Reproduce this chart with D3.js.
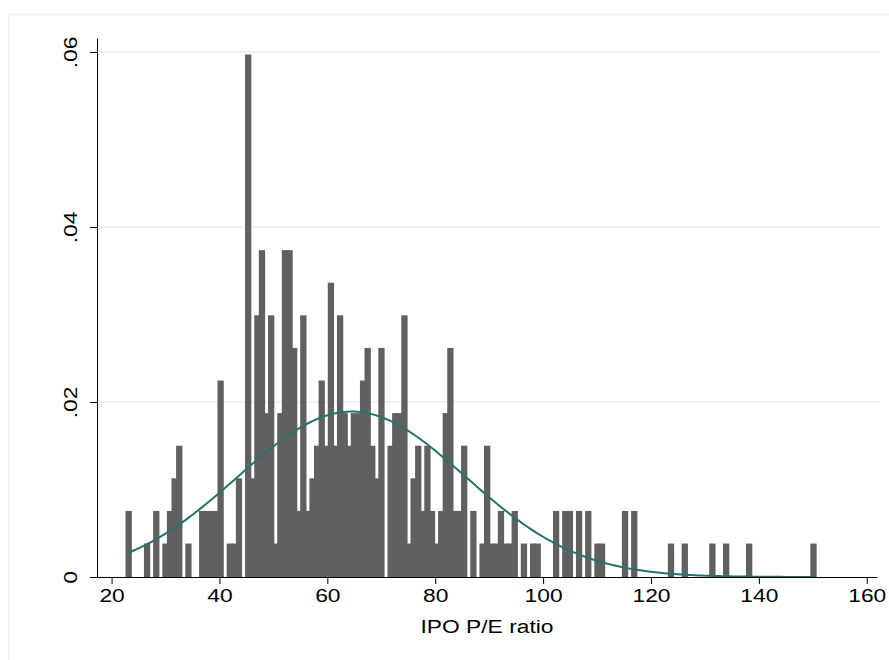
<!DOCTYPE html>
<html lang="en">
  <head>
    <meta charset="utf-8" />
    <script src="https://d3js.org/d3.v7.min.js"></script>
    <style>
      body { margin: 0; background: #fff; }
      text { font-family: 'Liberation Sans', Arial, Helvetica, sans-serif; fill: #000; }
    </style>
  </head>
  <body>
    <svg id="chart" width="889" height="660"></svg>
    <script>
      // histogram bins: start, width and count per bin
      const binStart = 22.75;
      const binWidth = 0.852;
      const binCounts = [
        2, 0, 0, 0, 1, 0, 2, 0, 1, 2,
        3, 4, 0, 1, 0, 0, 2, 2, 2, 2,
        6, 0, 1, 1, 3, 0, 16, 3, 8, 10,
        5, 8, 1, 5, 10, 10, 7, 2, 8, 2,
        3, 4, 6, 4, 9, 4, 8, 5, 4, 5,
        5, 6, 7, 4, 3, 7, 0, 4, 5, 5,
        8, 1, 3, 4, 2, 4, 2, 1, 2, 5,
        7, 2, 2, 4, 0, 2, 0, 1, 4, 1,
        1, 2, 1, 1, 2, 0, 1, 0, 1, 1,
        0, 0, 0, 2, 0, 2, 2, 0, 2, 0,
        2, 0, 1, 1, 0, 0, 0, 0, 2, 0,
        2, 0, 0, 0, 0, 0, 0, 0, 1, 0,
        0, 1, 0, 0, 0, 0, 0, 1, 0, 0,
        1, 0, 0, 0, 0, 1, 0, 0, 0, 0,
        0, 0, 0, 0, 0, 0, 0, 0, 0, 1
      ];
      const xTicks = [20, 40, 60, 80, 100, 120, 140, 160];
      const yTicks = [0, 0.02, 0.04, 0.06];
      const yTickLabels = ['0', '.02', '.04', '.06'];
      const xTitle = 'IPO P/E ratio';

      const svg = d3.select('#chart');

      // scales: axis lines run 97..877 and 577..38
      const x = d3.scaleLinear().domain([17.3, 161.9]).range([97, 877]);
      const y = d3.scaleLinear().domain([0, 0.0616]).range([577, 38]);

      const n = d3.sum(binCounts);
      const bins = binCounts.map((c, i) => ({
        x0: binStart + i * binWidth,
        x1: binStart + (i + 1) * binWidth,
        mid: binStart + (i + 0.5) * binWidth,
        count: c,
        density: c / (n * binWidth)
      }));

      // outer frame (faint)
      svg.append('line')
        .attr('x1', 8.5).attr('x2', 8.5).attr('y1', 14.5).attr('y2', 660)
        .attr('stroke', '#e9eef1').attr('stroke-width', 1);
      svg.append('line')
        .attr('x1', 8.5).attr('x2', 889).attr('y1', 14.5).attr('y2', 14.5)
        .attr('stroke', '#e9eef1').attr('stroke-width', 1);

      // gridlines
      svg.append('g')
        .selectAll('line')
        .data(yTicks.filter(d => d > 0))
        .join('line')
        .attr('x1', 98).attr('x2', 880)
        .attr('y1', d => y(d)).attr('y2', d => y(d))
        .attr('stroke', '#e8eef1')
        .attr('stroke-width', 1.6);

      // bars
      svg.append('g')
        .selectAll('rect')
        .data(bins.filter(b => b.count > 0))
        .join('rect')
        .attr('x', d => x(d.x0))
        .attr('width', d => x(d.x1) - x(d.x0))
        .attr('y', d => y(d.density))
        .attr('height', d => y(0) - y(d.density))
        .attr('fill', '#606060')
        .attr('stroke', '#606060')
        .attr('stroke-width', 1.7);

      // normal density with the data's mean and sd
      const mean = d3.sum(bins, b => b.count * b.mid) / n;
      const sd = Math.sqrt(d3.sum(bins, b => b.count * (b.mid - mean) ** 2) / (n - 1));
      const lo = binStart, hi = binStart + binCounts.length * binWidth;
      const curve = d3.range(0, 201).map(k => {
        const v = lo + (hi - lo) * k / 200;
        return [v, Math.exp(-0.5 * ((v - mean) / sd) ** 2) / (sd * Math.sqrt(2 * Math.PI))];
      });
      svg.append('path')
        .datum(curve)
        .attr('fill', 'none')
        .attr('stroke', '#27736b')
        .attr('stroke-width', 2)
        .attr('d', d3.line().x(d => x(d[0])).y(d => y(d[1])));

      // x axis
      const gx = svg.append('g')
        .attr('transform', 'translate(0,577)')
        .call(d3.axisBottom(x).tickValues(xTicks).tickSize(7).tickSizeOuter(0));
      gx.selectAll('text')
        .attr('y', 25).attr('dy', 0)
        .attr('font-size', 19)
        .attr('transform', 'scale(1.2,1)')
        .attr('x', 0);
      // scale(1.2,1) would shift x; keep labels centred on the tick
      gx.selectAll('.tick text').attr('transform', 'scale(1.2,1)');

      // y axis
      const gy = svg.append('g')
        .attr('transform', 'translate(97,0)')
        .call(d3.axisLeft(y).tickValues(yTicks).tickFormat((d, i) => yTickLabels[i])
          .tickSize(7).tickSizeOuter(0));
      gy.selectAll('text')
        .attr('x', 0).attr('y', 0).attr('dy', 0)
        .attr('text-anchor', 'middle')
        .attr('font-size', 19)
        .attr('transform', 'translate(-20,0) rotate(-90) scale(1.2,1)');

      svg.selectAll('.domain, .tick line').attr('stroke', '#000').attr('stroke-width', 1);

      // axis title
      svg.append('text')
        .attr('transform', `translate(${(x.range()[0] + x.range()[1]) / 2},633) scale(1.2,1)`)
        .attr('text-anchor', 'middle')
        .attr('font-size', 19)
        .text(xTitle);
    </script>
  </body>
</html>
